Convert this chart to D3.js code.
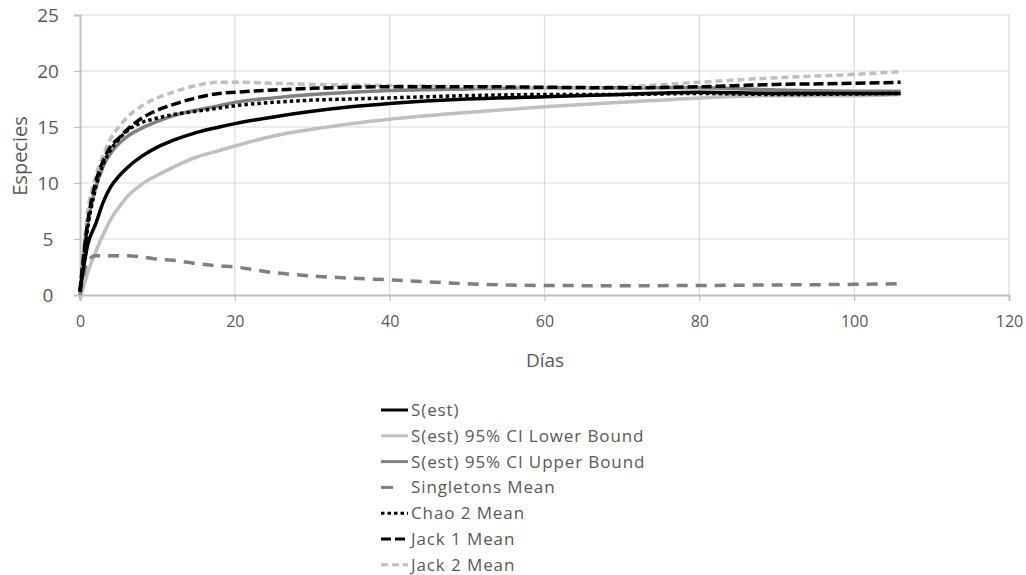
<!DOCTYPE html>
<html>
<head>
<meta charset="utf-8">
<script src="https://cdn.jsdelivr.net/npm/d3@7"></script>
<style>
  html, body { margin: 0; padding: 0; background: #fff; }
  svg { display: block; font-family: "Open Sans", "Noto Sans", sans-serif; }
</style>
</head>
<body>
<svg id="chart" width="1026" height="575"></svg>
<script>
// Sampling days for the accumulation curves
const days = [0, 1, 2, 3, 4, 5, 6, 8, 10, 12, 15, 18, 20, 25, 30, 35, 40, 50, 60, 70, 80, 90, 100, 106];

// Estimated species richness per sampling day
const sEst      = [0.3, 4.5, 6.3, 8.3, 9.7, 10.6, 11.3, 12.4, 13.2, 13.8, 14.5, 15.0, 15.3, 15.9, 16.4, 16.8, 17.1, 17.5, 17.7, 17.9, 18.1, 18.0, 18.0, 18.0];
const sLower    = [-0.4, 2.0, 3.8, 5.4, 6.8, 7.8, 8.7, 9.9, 10.7, 11.4, 12.3, 12.9, 13.3, 14.2, 14.8, 15.3, 15.7, 16.3, 16.8, 17.2, 17.6, 17.8, 17.8, 17.9];
const sUpper    = [0.5, 6.5, 9.5, 11.5, 12.7, 13.5, 14.1, 14.9, 15.5, 16.0, 16.5, 16.9, 17.2, 17.6, 17.9, 18.1, 18.25, 18.4, 18.5, 18.5, 18.5, 18.3, 18.2, 18.2];
const singletons= [0, 3.0, 3.5, 3.5, 3.5, 3.5, 3.5, 3.4, 3.2, 3.1, 2.8, 2.6, 2.5, 2.0, 1.7, 1.5, 1.35, 1.0, 0.85, 0.83, 0.85, 0.9, 0.95, 1.0];
const chao2     = [0.3, 6.0, 9.5, 11.7, 13.0, 13.9, 14.6, 15.4, 15.8, 16.1, 16.4, 16.7, 16.9, 17.2, 17.4, 17.5, 17.6, 17.8, 17.9, 17.9, 18.0, 17.9, 17.95, 18.0];
const jack1     = [0.3, 6.5, 10.0, 12.0, 13.3, 14.0, 14.7, 15.8, 16.5, 17.0, 17.6, 18.0, 18.1, 18.3, 18.45, 18.55, 18.6, 18.6, 18.55, 18.5, 18.6, 18.8, 18.9, 19.0];
const jack2     = [0.3, 7.5, 10.5, 12.5, 14.0, 15.0, 15.8, 16.9, 17.6, 18.1, 18.7, 19.0, 19.0, 18.9, 18.8, 18.75, 18.7, 18.6, 18.5, 18.6, 19.0, 19.4, 19.7, 19.95];

const seriesNames = ["S(est)", "S(est) 95% CI Lower Bound", "S(est) 95% CI Upper Bound",
                     "Singletons Mean", "Chao 2 Mean", "Jack 1 Mean", "Jack 2 Mean"];
const seriesValues = [sEst, sLower, sUpper, singletons, chao2, jack1, jack2];

const xTicks = [0, 20, 40, 60, 80, 100, 120];
const yTicks = [0, 5, 10, 15, 20, 25];

// Line styles for each series (colour, width, dash pattern)
const styles = [
  { color: "#000000", width: 3.5, dash: null },
  { color: "#bfbfbf", width: 3.5, dash: null },
  { color: "#808080", width: 3.5, dash: null },
  { color: "#7f7f7f", width: 3.5, dash: "11,8" },
  { color: "#000000", width: 3.5, dash: "3.5,3" },
  { color: "#000000", width: 3.5, dash: "10,4" },
  { color: "#bfbfbf", width: 3.5, dash: "7,4" }
];
// Drawing order: lighter/background curves first
const drawOrder = [1, 2, 3, 6, 0, 4, 5];

const svg = d3.select("#chart");
const margin = { left: 80, right: 17, top: 15, bottom: 280 };
const W = 1026, H = 575;

const x = d3.scaleLinear().domain([0, 120]).range([margin.left, W - margin.right]);
const y = d3.scaleLinear().domain([0, 25]).range([H - margin.bottom, margin.top]);

const textColor = "#595959";
const gridColor = "#d9d9d9";

// Gridlines
const g = svg.append("g");
g.selectAll("line.hgrid").data(yTicks.filter(d => d > 0)).join("line")
  .attr("x1", x(0)).attr("x2", x(120))
  .attr("y1", d => y(d)).attr("y2", d => y(d))
  .attr("stroke", gridColor).attr("stroke-width", 1.2);
g.selectAll("line.vgrid").data(xTicks.filter(d => d > 0)).join("line")
  .attr("x1", d => x(d)).attr("x2", d => x(d))
  .attr("y1", y(25)).attr("y2", y(0))
  .attr("stroke", gridColor).attr("stroke-width", 1.2);

// Axes
const xAxis = d3.axisBottom(x).tickValues(xTicks).tickSize(6).tickPadding(15);
const yAxis = d3.axisLeft(y).tickValues(yTicks).tickSize(6).tickPadding(26);

const gx = svg.append("g").attr("transform", `translate(0,${y(0)})`).call(xAxis);
const gy = svg.append("g").attr("transform", `translate(${x(0)},0)`).call(yAxis);
[gx, gy].forEach(a => {
  a.select(".domain").attr("stroke", "#bfbfbf").attr("stroke-width", 2);
  a.selectAll(".tick line").attr("stroke", "#bfbfbf").attr("stroke-width", 1.2);
  a.selectAll(".tick text").attr("fill", textColor)
    .style("font-family", "'Open Sans', 'Noto Sans', sans-serif");
});
gx.selectAll(".tick text").style("font-size", "16px");
gy.selectAll(".tick text").style("font-size", "19px").attr("text-anchor", "middle");

// Axis titles
svg.append("text").attr("x", 545).attr("y", 367).attr("text-anchor", "middle")
  .attr("fill", textColor).style("font-size", "19px").text("Días");
svg.append("text").attr("transform", `translate(27,${156}) rotate(-90)`)
  .attr("text-anchor", "middle").attr("fill", textColor).style("font-size", "20px").text("Especies");

// Curves
const line = d3.line().x(d => x(d[0])).y(d => y(d[1])).curve(d3.curveMonotoneX);
drawOrder.forEach(i => {
  const st = styles[i];
  svg.append("path")
    .datum(days.map((d, k) => [d, seriesValues[i][k]]))
    .attr("d", line)
    .attr("fill", "none")
    .attr("stroke", st.color)
    .attr("stroke-width", st.width)
    .attr("stroke-dasharray", st.dash);
});

// Legend
const legend = svg.append("g").attr("transform", "translate(381,410)");
const rowH = 25.8;
seriesNames.forEach((name, i) => {
  const st = styles[i];
  const row = legend.append("g").attr("transform", `translate(0,${i * rowH})`);
  const isSingle = i === 3;
  row.append("line")
    .attr("x1", 0).attr("x2", isSingle ? 12 : 27)
    .attr("y1", 0).attr("y2", 0)
    .attr("stroke", st.color).attr("stroke-width", 3)
    .attr("stroke-dasharray", isSingle ? null : st.dash);
  row.append("text").attr("x", 30).attr("y", 0).attr("dy", "0.35em")
    .attr("fill", textColor).style("font-size", "17px").style("letter-spacing", "0.9px")
    .text(name);
});
</script>
</body>
</html>
